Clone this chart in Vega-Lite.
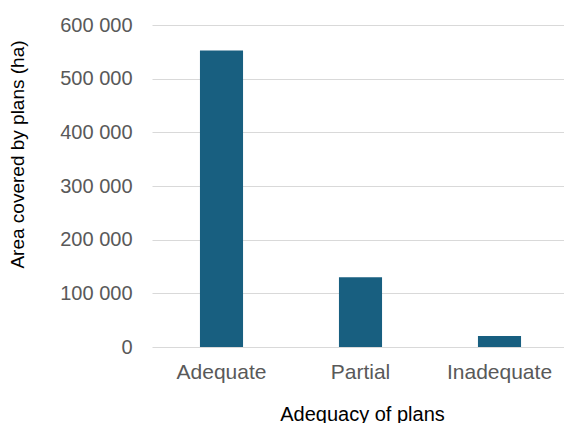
{
  "$schema": "https://vega.github.io/schema/vega-lite/v6.json",
  "autosize": "none",
  "padding": {"left": 152, "top": 25, "right": 0, "bottom": 76},
  "width": 417,
  "height": 322,
  "background": "white",
  "config": {
    "font": "Liberation Sans",
    "view": {"stroke": null}
  },
  "data": {
    "values": [
      {"adequacy": "Adequate", "area": 552600},
      {"adequacy": "Partial", "area": 130000},
      {"adequacy": "Inadequate", "area": 20400}
    ]
  },
  "mark": {"type": "bar", "color": "#185F80"},
  "encoding": {
    "x": {
      "field": "adequacy",
      "type": "nominal",
      "sort": null,
      "title": "Adequacy of plans",
      "scale": {"paddingInner": 0.69, "paddingOuter": 0.345},
      "axis": {
        "labelAngle": 0,
        "labelFontSize": 21,
        "labelColor": "#595959",
        "labelPadding": 14,
        "ticks": false,
        "domain": false,
        "titleFontSize": 20,
        "titleFontWeight": "normal",
        "titleColor": "#000000",
        "titlePadding": 22,
        "titleX": 210
      }
    },
    "y": {
      "field": "area",
      "type": "quantitative",
      "title": "Area covered by plans (ha)",
      "scale": {"domain": [0, 600000]},
      "axis": {
        "values": [0, 100000, 200000, 300000, 400000, 500000, 600000],
        "labelExpr": "replace(format(datum.value, ','), ',', ' ')",
        "labelFontSize": 20,
        "labelColor": "#595959",
        "labelPadding": 20,
        "ticks": false,
        "domain": false,
        "grid": true,
        "gridColor": "#d9d9d9",
        "gridWidth": 1,
        "titleFontSize": 19,
        "titleFontWeight": "normal",
        "titleColor": "#000000",
        "titlePadding": 32,
        "titleY": 129
      }
    }
  }
}
